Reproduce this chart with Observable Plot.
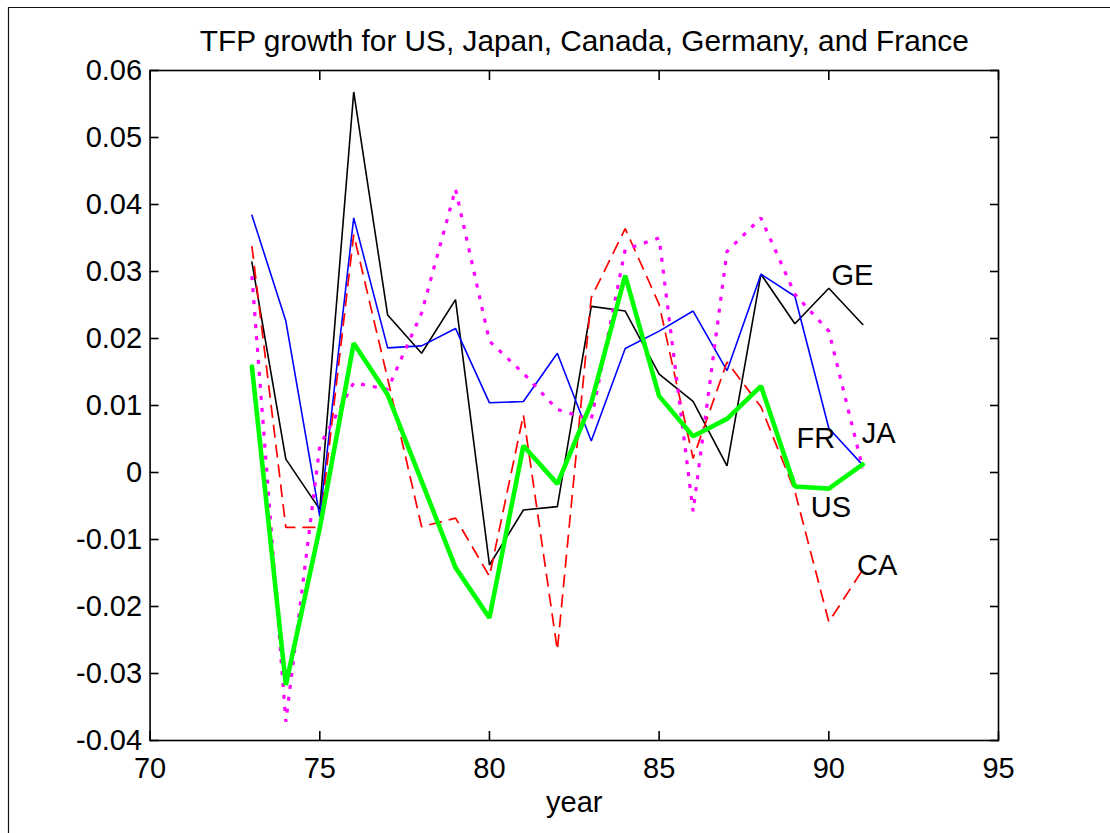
<!DOCTYPE html>
<html>
<head>
<meta charset="utf-8">
<script src="https://cdn.jsdelivr.net/npm/d3@7"></script>
<script src="https://cdn.jsdelivr.net/npm/@observablehq/plot@0.6"></script>
<style>
  html, body { margin: 0; padding: 0; background: #fff; }
  #chart { position: absolute; left: 0; top: 0; }
</style>
</head>
<body>
<div id="chart"></div>
<script>
// ---- data ----
const years = [73, 74, 75, 76, 77, 78, 79, 80, 81, 82, 83, 84, 85, 86, 87, 88, 89, 90, 91];
const usValues = [0.0158, -0.0317, -0.0083, 0.0193, 0.0116, -0.0013, -0.0142, -0.0217, 0.0040, -0.0017, 0.0104, 0.0294, 0.0114, 0.0054, 0.0080, 0.0129, -0.0021, -0.0024, 0.0012];
const jaValues = [0.0293, -0.0372, 0.0040, 0.0134, 0.0124, 0.0238, 0.0423, 0.0196, 0.0148, 0.0094, 0.0079, 0.0333, 0.0350, -0.0058, 0.0330, 0.0380, 0.0266, 0.0211, 0.0006];
const caValues = [0.0338, -0.0082, -0.0082, 0.0355, 0.0140, -0.0081, -0.0068, -0.0155, 0.0086, -0.0265, 0.0261, 0.0364, 0.0251, 0.0021, 0.0165, 0.0098, -0.0028, -0.0223, -0.0145];
const geValues = [0.0314, 0.0020, -0.0055, 0.0568, 0.0235, 0.0178, 0.0258, -0.0138, -0.0056, -0.0051, 0.0248, 0.0241, 0.0147, 0.0106, 0.0010, 0.0296, 0.0222, 0.0275, 0.0221];
const frValues = [0.0384, 0.0226, -0.0066, 0.0380, 0.0186, 0.0189, 0.0215, 0.0104, 0.0106, 0.0178, 0.0047, 0.0185, 0.0211, 0.0241, 0.0152, 0.0296, 0.0263, 0.0066, 0.0011];

const xTicks = [70, 75, 80, 85, 90, 95];
const xTickLabels = ["70", "75", "80", "85", "90", "95"];
const yTicks = [-0.04, -0.03, -0.02, -0.01, 0, 0.01, 0.02, 0.03, 0.04, 0.05, 0.06];
const yTickLabels = ["-0.04", "-0.03", "-0.02", "-0.01", "0", "0.01", "0.02", "0.03", "0.04", "0.05", "0.06"];

// in-plot series labels (data coordinates)
const labelNames = ["GE", "FR", "JA", "US", "CA"];
const labelYears = [90.08, 89.05, 90.97, 89.47, 90.83];
const labelValues = [0.0294, 0.0051, 0.0058, -0.0052, -0.0139];

const titleText = "TFP growth for US, Japan, Canada, Germany, and France";
const xLabelText = "year";

// ---- build ----
const toRows = vals => years.map((yr, i) => ({year: yr, value: vals[i]}));
const labels = labelNames.map((n, i) => ({name: n, year: labelYears[i], value: labelValues[i]}));
const fam = "'Liberation Sans', Arial, Helvetica, sans-serif";

const plot = Plot.plot({
  width: 1110,
  height: 833,
  marginLeft: 149.6,
  marginRight: 112,
  marginTop: 70,
  marginBottom: 93,
  style: {fontFamily: fam, fontSize: "29px", color: "black", background: "white", overflow: "visible"},
  x: {domain: [70, 95]},
  y: {domain: [-0.04, 0.06]},
  marks: [
    Plot.frame({stroke: "black", strokeWidth: 1.6}),
    Plot.axisX(xTicks, {anchor: "bottom", tickSize: -9, tickPadding: 26, strokeWidth: 1.6,
      tickFormat: d => xTickLabels[xTicks.indexOf(d)], fontSize: 29, label: null}),
    Plot.axisX(xTicks, {anchor: "top", tickSize: -9, strokeWidth: 1.6, tickFormat: () => "", label: null}),
    Plot.axisY(yTicks, {anchor: "left", tickSize: -9, tickPadding: 17, strokeWidth: 1.6,
      tickFormat: d => yTickLabels[yTicks.findIndex(t => Math.abs(t - d) < 1e-9)], fontSize: 29, label: null}),
    Plot.axisY(yTicks, {anchor: "right", tickSize: -9, strokeWidth: 1.6, tickFormat: () => "", label: null}),
    Plot.line(toRows(geValues), {x: "year", y: "value", stroke: "#000000", strokeWidth: 1.6, strokeLinejoin: "miter"}),
    Plot.line(toRows(frValues), {x: "year", y: "value", stroke: "#0000ff", strokeWidth: 1.6, strokeLinejoin: "miter"}),
    Plot.line(toRows(caValues), {x: "year", y: "value", stroke: "#ff0000", strokeWidth: 1.7, strokeDasharray: "13,7", strokeLinecap: "butt", strokeLinejoin: "miter"}),
    Plot.line(toRows(jaValues), {x: "year", y: "value", stroke: "#ff00ff", strokeWidth: 3.2, strokeDasharray: "4,8", strokeLinecap: "butt", strokeLinejoin: "miter"}),
    Plot.line(toRows(usValues), {x: "year", y: "value", stroke: "#00ff00", strokeWidth: 4.6, strokeLinejoin: "miter"}),
    Plot.text(labels, {x: "year", y: "value", text: "name", textAnchor: "start", lineAnchor: "middle", fontSize: 29, fill: "black"}),
    Plot.text([titleText], {frameAnchor: "top", lineAnchor: "bottom", dx: 10, dy: -20, fontSize: 29.8, fill: "black"}),
    Plot.text([xLabelText], {frameAnchor: "bottom", lineAnchor: "bottom", dy: 71, fontSize: 29, fill: "black"})
  ]
});

document.getElementById("chart").appendChild(plot);

// outer figure border (top and left edges as in the reference)
d3.select(plot).append("path")
  .attr("d", "M8.5,833V7.5H1110")
  .attr("fill", "none")
  .attr("stroke", "#1a1010")
  .attr("stroke-width", 1.2);
</script>
</body>
</html>
